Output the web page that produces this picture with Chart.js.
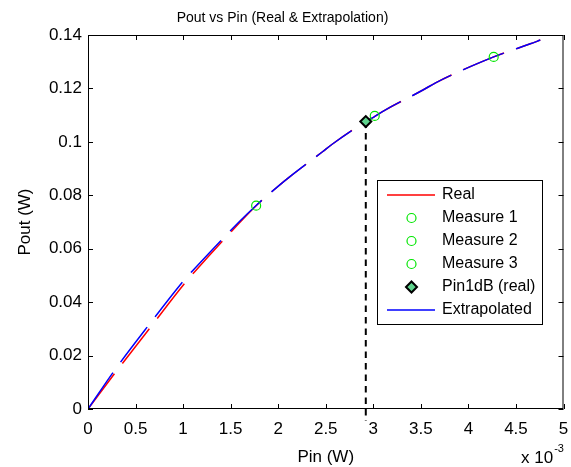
<!DOCTYPE html>
<html>
<head>
<meta charset="utf-8">
<script src="https://cdn.jsdelivr.net/npm/chart.js@4.4.1/dist/chart.umd.min.js"></script>
<style>
  html, body { margin: 0; padding: 0; background: #fff; }
</style>
</head>
<body>
<canvas id="chart" width="571" height="467"></canvas>
<script>
// values, Pin and Pout in watts
const pinReal = [0, 0.00029, 0.000643, 0.001017, 0.001122, 0.001593, 0.001768, 0.00202, 0.002117, 0.002466,
  0.002571, 0.002921, 0.003001, 0.003124, 0.003522, 0.003655, 0.004266, 0.0045, 0.004651, 0.004756];
const poutReal = [0, 0.01374, 0.02995, 0.04706, 0.0514, 0.0697, 0.0761, 0.0840, 0.0868, 0.0963,
  0.0992, 0.1076, 0.1092, 0.1119, 0.1194, 0.1221, 0.1318, 0.1348, 0.1367, 0.1381];
const poutExtrap = [0, 0.0150, 0.0316, 0.0485, 0.0526, 0.0702, 0.0762, 0.0840, 0.0868, 0.0963,
  0.0992, 0.1076, 0.1092, 0.1119, 0.1194, 0.1221, 0.1318, 0.1348, 0.1367, 0.1381];

const measurePin = [0.001768, 0.003015, 0.004266];
const measurePout = [0.0761, 0.1097, 0.1318];

const pin1dB = 0.002921;
const pout1dB = 0.1076;

const xTickValues = [0, 0.0005, 0.001, 0.0015, 0.002, 0.0025, 0.003, 0.0035, 0.004, 0.0045, 0.005];
const xTickLabels = ['0', '0.5', '1', '1.5', '2', '2.5', '3', '3.5', '4', '4.5', '5'];
const yTickValues = [0, 0.02, 0.04, 0.06, 0.08, 0.1, 0.12, 0.14];
const yTickLabels = ['0', '0.02', '0.04', '0.06', '0.08', '0.1', '0.12', '0.14'];

const FONT = 'Liberation Sans';

const toPoints = (xs, ys) => xs.map((x, i) => ({ x: x, y: ys[i] }));

const measureSet = (i) => ({
  label: 'Measure ' + (i + 1),
  data: [{ x: measurePin[i], y: measurePout[i] }],
  showLine: false,
  pointStyle: 'circle',
  pointRadius: 4.5,
  pointBorderWidth: 1.2,
  pointBorderColor: '#00e600',
  pointBackgroundColor: 'rgba(0,0,0,0)',
  order: 0,
});

const datasets = [
  {
    label: 'Real',
    data: toPoints(pinReal, poutReal),
    showLine: true,
    borderColor: '#ff0000',
    borderWidth: 1.5,
    borderDash: [44, 13],
    cubicInterpolationMode: 'monotone',
    pointRadius: 0,
    order: 3,
  },
  measureSet(0),
  measureSet(1),
  measureSet(2),
  {
    label: 'Pin1dB (real)',
    data: [{ x: pin1dB, y: pout1dB }],
    showLine: false,
    pointStyle: 'rectRot',
    pointRadius: 5.5,
    pointBorderWidth: 2,
    pointBorderColor: '#000000',
    pointBackgroundColor: '#5fd38d',
    order: 1,
  },
  {
    label: 'Extrapolated',
    data: toPoints(pinReal, poutExtrap),
    showLine: true,
    borderColor: '#0000ff',
    borderWidth: 1.5,
    borderDash: [44, 13],
    cubicInterpolationMode: 'monotone',
    pointRadius: 0,
    order: 2,
  },
  {
    label: '',
    inLegend: false,
    data: [{ x: pin1dB, y: pout1dB }, { x: pin1dB, y: -0.0045 }],
    showLine: true,
    borderColor: '#000000',
    borderWidth: 2,
    borderDash: [6.5, 5],
    pointRadius: 0,
    clip: false,
    order: 4,
  },
];

// box, inner tick marks, exponent note and the legend, MATLAB style
const matlabAxes = {
  id: 'matlabAxes',
  afterDraw(chart) {
    const { ctx, chartArea: a, scales } = chart;
    ctx.save();
    ctx.strokeStyle = '#000';
    ctx.lineWidth = 1;
    ctx.strokeRect(a.left + 0.5, a.top + 0.5, a.right - a.left - 1, a.bottom - a.top - 1);

    const len = 5;
    ctx.beginPath();
    scales.x.ticks.forEach((t) => {
      const px = Math.round(scales.x.getPixelForValue(t.value)) + 0.5;
      ctx.moveTo(px, a.bottom); ctx.lineTo(px, a.bottom - len);
      ctx.moveTo(px, a.top); ctx.lineTo(px, a.top + len);
    });
    scales.y.ticks.forEach((t) => {
      const py = Math.round(scales.y.getPixelForValue(t.value)) + 0.5;
      ctx.moveTo(a.left, py); ctx.lineTo(a.left + len, py);
      ctx.moveTo(a.right, py); ctx.lineTo(a.right - len, py);
    });
    ctx.stroke();

    // x 10^-3
    ctx.fillStyle = '#000';
    ctx.textBaseline = 'middle';
    ctx.textAlign = 'left';
    ctx.font = '17px "' + FONT + '"';
    ctx.fillText('x 10', 521, 458);
    const w = ctx.measureText('x 10').width;
    ctx.font = '11px "' + FONT + '"';
    ctx.fillText('-3', 521 + w + 1, 449);

    // legend
    const box = { left: 377, top: 180, right: 542, bottom: 324 };
    const rows = [195, 218, 241, 264, 287, 310];
    ctx.fillStyle = '#fff';
    ctx.fillRect(box.left, box.top, box.right - box.left, box.bottom - box.top);
    ctx.strokeStyle = '#000';
    ctx.lineWidth = 1;
    ctx.strokeRect(box.left + 0.5, box.top + 0.5, box.right - box.left, box.bottom - box.top);

    const items = chart.data.datasets.filter((d) => d.inLegend !== false);
    items.forEach((d, i) => {
      const y = rows[i];
      if (d.showLine) {
        ctx.strokeStyle = d.borderColor;
        ctx.lineWidth = 1.5;
        ctx.setLineDash([]);
        ctx.beginPath();
        ctx.moveTo(387, y);
        ctx.lineTo(435, y);
        ctx.stroke();
      } else if (d.pointStyle === 'circle') {
        ctx.strokeStyle = d.pointBorderColor;
        ctx.lineWidth = d.pointBorderWidth;
        ctx.beginPath();
        ctx.arc(411.5, y, d.pointRadius, 0, Math.PI * 2);
        ctx.stroke();
      } else {
        const r = d.pointRadius;
        ctx.fillStyle = d.pointBackgroundColor;
        ctx.strokeStyle = d.pointBorderColor;
        ctx.lineWidth = d.pointBorderWidth;
        ctx.beginPath();
        ctx.moveTo(411.5, y - r);
        ctx.lineTo(411.5 + r, y);
        ctx.lineTo(411.5, y + r);
        ctx.lineTo(411.5 - r, y);
        ctx.closePath();
        ctx.fill();
        ctx.stroke();
      }
      ctx.fillStyle = '#000';
      ctx.font = '16px "' + FONT + '"';
      ctx.textBaseline = 'middle';
      ctx.fillText(d.label, 442, y);
    });
    ctx.restore();
  },
};

new Chart(document.getElementById('chart'), {
  type: 'scatter',
  data: { datasets: datasets },
  plugins: [matlabAxes],
  options: {
    responsive: false,
    animation: false,
    layout: { padding: { left: 0, right: 6, top: 0, bottom: 0 } },
    plugins: {
      legend: { display: false },
      tooltip: { enabled: false },
      title: {
        display: true,
        text: 'Pout vs Pin (Real & Extrapolation)',
        color: '#000',
        font: { family: FONT, size: 14, weight: 'normal', lineHeight: 1.2 },
        padding: { top: 10, bottom: 8.2 },
      },
    },
    scales: {
      x: {
        type: 'linear',
        min: 0,
        max: 0.005,
        afterBuildTicks: (scale) => { scale.ticks = xTickValues.map((v) => ({ value: v })); },
        afterFit: (scale) => {
          scale.height = 58;
          scale.paddingLeft = 0;
          scale.paddingRight = 0;
        },
        grid: { display: false, drawTicks: false },
        border: { display: false },
        ticks: {
          padding: 10,
          color: '#000',
          maxRotation: 0,
          font: { family: FONT, size: 17 },
          callback: (v, i) => xTickLabels[i],
        },
        title: {
          display: true,
          text: 'Pin (W)',
          color: '#000',
          font: { family: FONT, size: 17, lineHeight: 1.1 },
          padding: { top: 0, bottom: 0 },
        },
      },
      y: {
        type: 'linear',
        min: 0,
        max: 0.14,
        afterBuildTicks: (scale) => { scale.ticks = yTickValues.map((v) => ({ value: v })); },
        afterFit: (scale) => {
          scale.width = 88;
          scale.paddingTop = 0;
          scale.paddingBottom = 0;
        },
        grid: { display: false, drawTicks: false },
        border: { display: false },
        ticks: {
          padding: 6,
          color: '#000',
          font: { family: FONT, size: 17 },
          callback: (v, i) => yTickLabels[i],
        },
        title: {
          display: true,
          text: 'Pout (W)',
          color: '#000',
          font: { family: FONT, size: 17, lineHeight: 1.2 },
          padding: { top: 15, bottom: 0 },
        },
      },
    },
  },
});
</script>
</body>
</html>
